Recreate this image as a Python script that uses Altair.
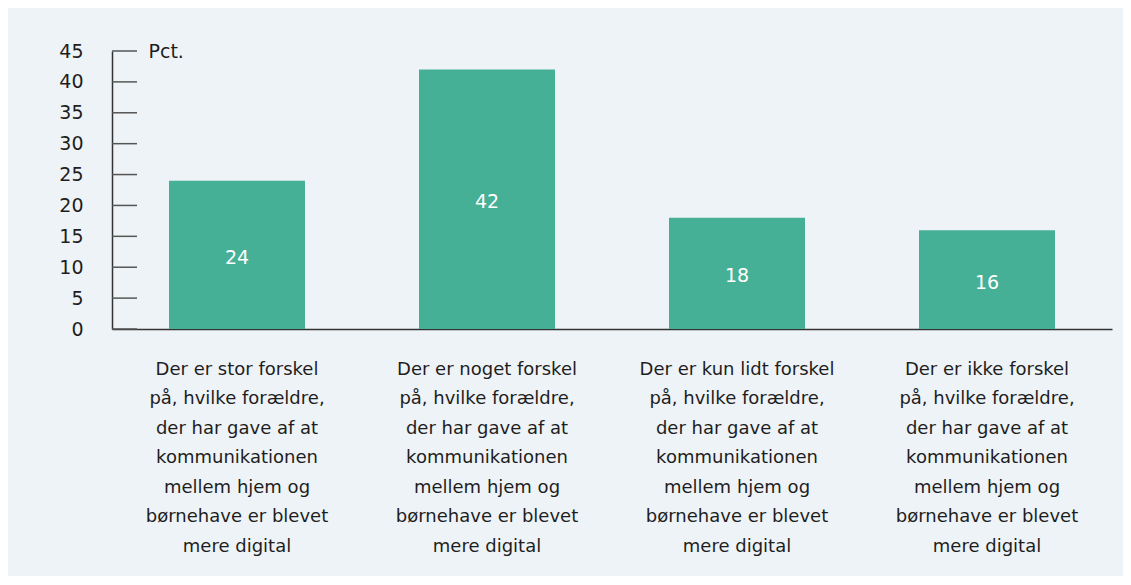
import altair as alt
import pandas as pd

categories = [
    "Der er stor forskel|på, hvilke forældre,|der har gave af at|kommunikationen|mellem hjem og|børnehave er blevet|mere digital",
    "Der er noget forskel|på, hvilke forældre,|der har gave af at|kommunikationen|mellem hjem og|børnehave er blevet|mere digital",
    "Der er kun lidt forskel|på, hvilke forældre,|der har gave af at|kommunikationen|mellem hjem og|børnehave er blevet|mere digital",
    "Der er ikke forskel|på, hvilke forældre,|der har gave af at|kommunikationen|mellem hjem og|børnehave er blevet|mere digital",
]
values = [24, 42, 18, 16]
tick_values = [0, 5, 10, 15, 20, 25, 30, 35, 40, 45]

FONT = "DejaVu Sans"
BG = "#EEF3F7"
BAR = "#45B095"
TXT = "#1E1E1E"

df = pd.DataFrame({"cat": categories, "val": values})
ticks_df = pd.DataFrame({"v": tick_values})

yscale = alt.Scale(domain=[0, 45], nice=False, zero=True)
xscale = alt.Scale(paddingInner=0.456, paddingOuter=0.228)

xaxis = alt.Axis(
    title="",
    labelExpr="split(datum.label, '|')",
    labelAngle=0,
    labelAlign="center",
    labelBaseline="top",
    labelLineHeight=29.5,
    labelPadding=31,
    labelFontSize=18,
    labelFont=FONT,
    labelColor=TXT,
    labelLimit=0,
    labelOverlap=False,
    ticks=False,
    domain=True,
    domainColor="#333333",
    domainWidth=1.5,
    zindex=0,
)

yaxis = alt.Axis(
    values=tick_values,
    title="Pct.",
    titleAngle=0,
    titleX=36,
    titleY=0,
    titleAlign="left",
    titleBaseline="middle",
    titleFontWeight="normal",
    titleFontSize=19,
    titleFont=FONT,
    titleColor=TXT,
    labelFontSize=19,
    labelFont=FONT,
    labelColor=TXT,
    labelPadding=29,
    labelOverlap=False,
    labelBound=False,
    labelFlush=False,
    ticks=False,
    grid=False,
    domain=True,
    domainColor="#333333",
    domainWidth=1.5,
)

bars = alt.Chart(df).mark_bar(color=BAR).encode(
    x=alt.X("cat:N", sort=categories, scale=xscale, axis=xaxis),
    y=alt.Y("val:Q", scale=yscale, axis=yaxis),
)

labels = alt.Chart(df).transform_calculate(mid="datum.val / 2").mark_text(
    color="white", fontSize=19, font=FONT, baseline="middle", dy=3
).encode(
    x=alt.X("cat:N", sort=categories, scale=xscale, axis=xaxis),
    y=alt.Y("mid:Q", scale=yscale, axis=yaxis),
    text=alt.Text("val:Q"),
)

tick_rules = alt.Chart(ticks_df).mark_rule(color="#555555", strokeWidth=1.5).encode(
    y=alt.Y("v:Q", scale=yscale, axis=yaxis),
    x=alt.value(0),
    x2=alt.value(25),
)

chart = alt.layer(bars, tick_rules, labels).properties(
    width=1000,
    height=278,
    background=BG,
    padding={"left": 104, "top": 43, "right": 11, "bottom": 247},
    autosize=alt.AutoSizeParams(type="none"),
).configure_view(stroke=None)

chart.save("out.html", embed_options={"renderer": "svg", "actions": False})
